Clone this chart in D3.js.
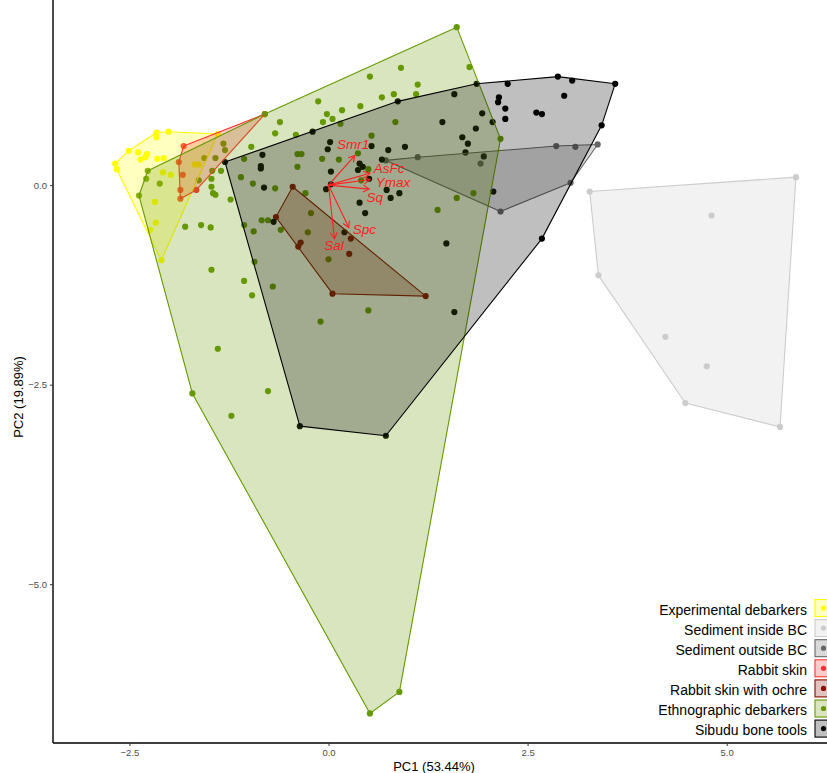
<!DOCTYPE html>
<html>
<head>
<meta charset="utf-8">
<title>PCA biplot</title>
<script src="https://d3js.org/d3.v7.min.js"></script>
<style>
  body { margin: 0; background: #fff; }
  svg { font-family: "Liberation Sans", Arial, sans-serif; }
</style>
</head>
<body>
<div id="chart"></div>
<script>
// group names, in legend order
const groupNames = ["Experimental debarkers", "Sediment inside BC", "Sediment outside BC",
  "Rabbit skin", "Rabbit skin with ochre", "Ethnographic debarkers", "Sibudu bone tools"];

// PC1, PC2 scores per group
const experimentalDebarkers = [[-2.16,0.66],[-2.01,0.67],[-2.16,0.60],[-2.51,0.43],[-2.39,0.41],[-2.28,0.39],
  [-2.30,0.35],[-2.36,0.32],[-2.15,0.33],[-2.07,0.34],[-2.68,0.27],[-2.66,0.20],[-2.08,0.16],[-1.98,0.13],
  [-2.18,-0.21],[-2.17,-0.47],[-2.24,-0.56],[-2.10,-0.94],[-1.39,0.64],[-1.68,0.26],[-1.63,0.26]];
const sedimentInsideBC = [[3.28,-0.08],[5.87,0.10],[4.81,-0.38],[3.39,-1.13],[4.23,-1.90],[4.75,-2.27],
  [4.48,-2.73],[5.67,-3.03]];
const sedimentOutsideBC = [[0.72,0.31],[1.12,0.35],[1.91,0.27],[2.16,-0.33],[2.86,0.49],[3.10,0.48],
  [3.38,0.51],[3.04,0.03]];
const rabbitSkin = [[-0.80,0.89],[-1.82,0.49],[-1.88,0.29],[-1.83,0.13],[-1.86,-0.06],[-1.86,-0.17],[-1.66,-0.06]];
const rabbitSkinOchre = [[-0.45,-0.02],[-0.66,-0.40],[-0.35,-0.72],[-0.38,-0.77],[0.28,-0.67],[0.26,-0.86],
  [0.05,-1.36],[1.22,-1.39]];
const ethnographicDebarkers = [[1.61,1.98],[1.77,1.48],[0.91,1.47],[0.52,1.36],[1.12,1.26],[0.82,1.14],
  [1.10,1.14],[0.67,1.10],[-0.13,1.05],[0.40,0.99],[0.17,0.94],[-0.02,0.89],[0.05,0.83],[-0.07,0.79],
  [0.15,0.77],[0.84,0.79],[-0.61,0.79],[-0.67,0.65],[-0.41,0.63],[0.54,0.62],[-0.97,0.48],[-0.39,0.39],
  [-0.34,0.39],[-0.08,0.33],[0.13,0.32],[0.37,0.40],[-0.39,0.23],[0.50,0.20],[0.41,0.06],[-0.29,-0.10],
  [-0.22,-0.35],[1.37,-0.31],[1.61,-0.16],[1.82,-0.10],[2.16,0.58],[-1.06,0.33],[-1.10,0.10],[-0.95,0.02],
  [-0.67,-0.04],[-1.23,-0.18],[-1.35,0.18],[-1.47,0.08],[-1.47,-0.02],[-1.45,-0.10],[-1.42,-0.12],
  [-2.27,0.18],[-2.29,0.08],[-2.38,-0.13],[-2.12,0.02],[-1.80,-0.52],[-1.60,-0.50],[-1.48,-0.53],
  [-1.06,-0.50],[-0.94,-0.58],[-0.84,-0.44],[-0.76,-0.44],[-0.60,-0.56],[-0.26,-0.59],[0.00,-0.93],
  [-1.47,-1.06],[-0.93,-0.96],[-1.06,-1.20],[-0.70,-1.27],[-0.96,-1.38],[-0.10,-1.71],[0.50,-1.57],
  [-1.39,-2.05],[-0.76,-2.58],[-1.71,-2.61],[-1.22,-2.89],[0.89,-6.35],[0.52,-6.62],[-0.80,0.89],
  [-1.56,0.34],[-1.42,0.34],[-1.32,0.52],[-1.30,0.44],[-1.46,0.18],[-1.63,0.06]];
const sibuduBoneTools = [[-1.30,0.29],[-0.20,0.67],[0.87,1.05],[1.86,1.27],[2.25,1.27],[2.88,1.36],
  [3.06,1.31],[3.60,1.27],[3.43,0.75],[2.68,-0.67],[0.72,-3.14],[-0.36,-3.02],[1.58,1.14],[2.14,1.10],
  [2.13,1.04],[2.22,0.96],[2.22,0.83],[2.96,1.12],[2.61,0.91],[2.68,0.89],[1.93,0.90],[1.43,0.79],
  [1.85,0.71],[2.06,0.79],[1.68,0.60],[1.75,0.52],[1.72,0.41],[1.95,0.36],[2.07,-0.08],[1.48,-0.73],
  [1.58,-1.59],[0.02,0.54],[-0.01,0.45],[0.54,0.49],[0.75,0.44],[0.96,0.48],[0.67,0.32],[0.39,0.27],
  [0.43,0.23],[0.37,0.19],[0.03,0.17],[0.51,0.08],[-0.03,-0.05],[0.03,0.01],[0.73,-0.06],[0.78,-0.16],
  [0.89,-0.10],[0.39,-0.22],[0.46,-0.35],[-0.81,-0.03],[-0.69,-0.46],[0.20,-0.59],[-0.83,0.38],
  [-0.85,0.24],[-0.85,0.21]];

const groupData = [experimentalDebarkers, sedimentInsideBC, sedimentOutsideBC, rabbitSkin,
  rabbitSkinOchre, ethnographicDebarkers, sibuduBoneTools];
const groupColors = ["#FFFF00", "#CCCCCC", "#666666", "#FF3333", "#8B0A00", "#669900", "#000000"];

// variable loadings (arrow tips) and where their labels sit
const loadingNames = ["Smr1", "AsFc", "Ymax", "Sq", "Spc", "Sal"];
const loadingPC1 = [0.33, 0.52, 0.52, 0.51, 0.255, 0.075];
const loadingPC2 = [0.37, 0.15, 0.07, -0.05, -0.53, -0.67];
const labelPC1 = [0.31, 0.76, 0.81, 0.58, 0.45, 0.07];
const labelPC2 = [0.51, 0.205, 0.035, -0.15, -0.56, -0.76];

const xTicks = [-2.5, 0, 2.5, 5];
const yTicks = [0, -2.5, -5];

const W = 827, H = 773;
const left = 53, bottom = 743;

const svg = d3.select("#chart").append("svg")
  .attr("width", W).attr("height", H);

const x = d3.scaleLinear().domain([-3.46, 6.26]).range([left, W]);
const y = d3.scaleLinear().domain([-6.99, 2.32]).range([bottom, 0]);

const plot = svg.append("g");

// points first, hulls laid over them
groupData.forEach(function (pts, i) {
  plot.append("g").selectAll("circle")
    .data(pts).join("circle")
    .attr("cx", d => x(d[0]))
    .attr("cy", d => y(d[1]))
    .attr("r", 3.1)
    .attr("fill", groupColors[i]);
});

groupData.forEach(function (pts, i) {
  var hull = d3.polygonHull(pts.map(d => [x(d[0]), y(d[1])]));
  plot.append("path")
    .attr("d", "M" + hull.join("L") + "Z")
    .attr("fill", groupColors[i])
    .attr("fill-opacity", 0.25)
    .attr("stroke", groupColors[i])
    .attr("stroke-width", 1.1)
    .attr("stroke-linejoin", "round");
});

// loading arrows
var arrows = svg.append("g").attr("stroke", "#FF2020").attr("stroke-width", 1.1).attr("fill", "none");
loadingNames.forEach(function (name, i) {
  var x0 = x(0), y0 = y(0), x1 = x(loadingPC1[i]), y1 = y(loadingPC2[i]);
  var a = Math.atan2(y1 - y0, x1 - x0), len = 7, sp = Math.PI / 6;
  arrows.append("path").attr("d", "M" + x0 + "," + y0 + "L" + x1 + "," + y1);
  arrows.append("path").attr("d",
    "M" + (x1 - len * Math.cos(a - sp)) + "," + (y1 - len * Math.sin(a - sp)) +
    "L" + x1 + "," + y1 +
    "L" + (x1 - len * Math.cos(a + sp)) + "," + (y1 - len * Math.sin(a + sp)));
});
svg.append("g").selectAll("text")
  .data(loadingNames).join("text")
  .attr("x", (d, i) => x(labelPC1[i]))
  .attr("y", (d, i) => y(labelPC2[i]))
  .attr("text-anchor", "middle")
  .attr("dominant-baseline", "central")
  .attr("font-style", "italic")
  .attr("font-size", 13.5)
  .attr("fill", "#FF2020")
  .text(d => d);

// axes
var xAxis = svg.append("g").attr("transform", "translate(0," + bottom + ")")
  .call(d3.axisBottom(x).tickValues(xTicks).tickFormat(d3.format(".1f")).tickSize(3).tickPadding(3));
var yAxis = svg.append("g").attr("transform", "translate(" + left + ",0)")
  .call(d3.axisLeft(y).tickValues(yTicks).tickFormat(d3.format(".1f")).tickSize(3).tickPadding(3));
[xAxis, yAxis].forEach(function (g) {
  g.select(".domain").attr("stroke", "#000").attr("stroke-width", 1.4);
  g.selectAll(".tick line").attr("stroke", "#333");
  g.selectAll(".tick text").attr("fill", "#4D4D4D").attr("font-size", 9.5)
    .attr("font-family", "Liberation Sans, Arial, sans-serif");
});
xAxis.select(".domain").attr("d", "M" + left + ",0H" + W);
yAxis.select(".domain").attr("d", "M0," + bottom + "V0");

svg.append("text")
  .attr("x", 434).attr("y", 766)
  .attr("text-anchor", "middle").attr("dominant-baseline", "central")
  .attr("font-size", 13).text("PC1 (53.44%)");
svg.append("text")
  .attr("transform", "translate(18,397) rotate(-90)")
  .attr("text-anchor", "middle").attr("dominant-baseline", "central")
  .attr("font-size", 13).text("PC2 (19.89%)");

// legend
var legend = svg.append("g");
groupNames.forEach(function (name, i) {
  var cy = 608 + i * 20.1;
  legend.append("rect")
    .attr("x", 815).attr("y", cy - 8.5).attr("width", 17).attr("height", 17)
    .attr("fill", groupColors[i]).attr("fill-opacity", 0.25)
    .attr("stroke", groupColors[i]).attr("stroke-width", 1.1);
  legend.append("circle")
    .attr("cx", 823.5).attr("cy", cy).attr("r", 2.6).attr("fill", groupColors[i]);
  legend.append("text")
    .attr("x", 807).attr("y", cy + 1.5)
    .attr("text-anchor", "end").attr("dominant-baseline", "central")
    .attr("font-size", 14).text(name);
});
</script>
</body>
</html>
